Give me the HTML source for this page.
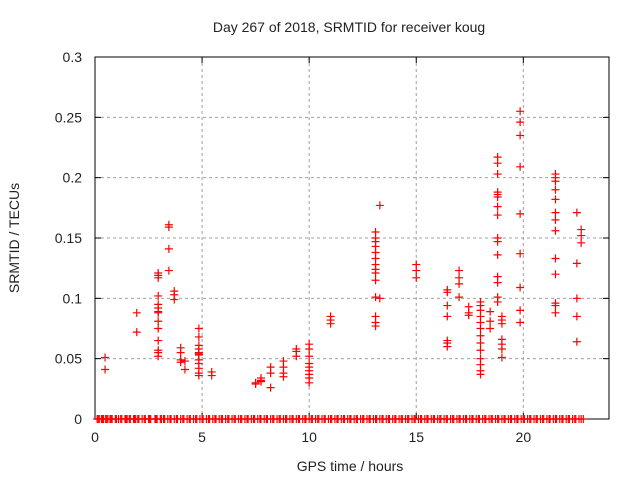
<!DOCTYPE html>
<html><head><meta charset="utf-8"><style>
body{margin:0;background:#fff}
svg text{font-family:"Liberation Sans",sans-serif;fill:#222}
</style></head><body>
<svg id="chart" width="640" height="480" viewBox="0 0 640 480" xmlns="http://www.w3.org/2000/svg">
<text x="349" y="32" font-size="14" text-anchor="middle">Day 267 of 2018, SRMTID for receiver koug</text>
<text x="0" y="0" font-size="14" text-anchor="middle" transform="translate(19,238) rotate(-90)">SRMTID / TECUs</text>
<text x="350" y="471" font-size="14" text-anchor="middle">GPS time / hours</text>
<g id="grid"></g>
<g id="axes"></g>
<g id="marks"></g>
</svg>
<script>
const xTicks=[0,5,10,15,20];
const yTicks=[0,0.05,0.1,0.15,0.2,0.25,0.3];
const yTickLabels=["0","0.05","0.1","0.15","0.2","0.25","0.3"];
const times=[0.47,0.47,1.95,1.95,
2.95,2.95,2.95,2.95,2.95,2.95,2.95,2.95,2.95,2.95,2.95,2.95,2.95,2.95,
3.45,3.45,3.45,3.45,3.7,3.7,3.7,4.0,4.0,4.0,4.0,4.2,4.2,
4.85,4.85,4.85,4.85,4.85,4.85,4.85,4.85,4.85,4.85,4.85,4.85,5.45,5.45,
7.5,7.5,7.75,7.75,7.75,8.2,8.2,8.2,8.8,8.8,8.8,8.8,9.4,9.4,9.4,
10,10,10,10,10,10,10,10,10,11,11,11,
13.1,13.1,13.1,13.1,13.1,13.1,13.1,13.1,13.1,13.1,13.1,13.1,13.1,13.1,13.3,13.3,
15,15,15,16.45,16.45,16.45,16.45,16.45,16.45,16.45,17,17,17,17,17.45,17.45,17.45,
18,18,18,18,18,18,18,18,18,18,18,18,18,18.45,18.45,18.45,
18.8,18.8,18.8,18.8,18.8,18.8,18.8,18.8,18.8,18.8,18.8,18.8,18.8,18.8,18.8,
19,19,19,19,19,19,19,
19.85,19.85,19.85,19.85,19.85,19.85,19.85,19.85,19.85,
21.5,21.5,21.5,21.5,21.5,21.5,21.5,21.5,21.5,21.5,21.5,21.5,21.5,
22.5,22.5,22.5,22.5,22.5,22.7,22.7,22.7];
const values=[0.051,0.041,0.088,0.072,
0.121,0.119,0.117,0.102,0.095,0.092,0.089,0.088,0.081,0.075,0.065,0.057,0.055,0.052,
0.161,0.159,0.141,0.123,0.106,0.103,0.099,0.059,0.055,0.049,0.047,0.048,0.041,
0.075,0.068,0.061,0.058,0.055,0.054,0.053,0.049,0.046,0.042,0.038,0.036,0.039,0.036,
0.030,0.029,0.034,0.031,0.032,0.043,0.038,0.026,0.048,0.043,0.038,0.035,0.058,0.056,0.052,
0.062,0.058,0.052,0.046,0.043,0.040,0.037,0.034,0.030,0.085,0.082,0.079,
0.155,0.150,0.147,0.143,0.138,0.133,0.128,0.124,0.121,0.115,0.101,0.085,0.080,0.077,0.177,0.100,
0.128,0.123,0.117,0.107,0.105,0.094,0.085,0.065,0.063,0.060,0.123,0.117,0.112,0.101,0.093,0.088,0.086,
0.097,0.094,0.090,0.085,0.080,0.075,0.069,0.063,0.057,0.050,0.045,0.040,0.037,0.089,0.081,0.075,
0.217,0.212,0.203,0.188,0.186,0.184,0.176,0.169,0.150,0.147,0.136,0.118,0.113,0.101,0.097,
0.085,0.082,0.079,0.066,0.062,0.058,0.051,
0.255,0.246,0.235,0.209,0.170,0.137,0.109,0.090,0.080,
0.203,0.200,0.197,0.190,0.182,0.171,0.165,0.156,0.133,0.120,0.096,0.094,0.088,
0.171,0.129,0.100,0.085,0.064,0.157,0.152,0.146];
const zeroTimes=[0.1,0.2,0.3,0.4,0.5,0.6,0.7,0.8,1.0,1.1,1.2,1.4,1.5,1.6,1.8,1.9,2.0,2.2,2.3,2.5,2.6,2.8,2.9,3.1,3.2,3.4,3.5,3.7,3.8,4.0,4.1,4.3,4.4,4.6,4.7,4.9,5.0,5.2,5.3,5.5,5.6,5.8,5.9,6.1,6.2,6.4,6.5,6.7,6.8,7.0,7.1,7.3,7.4,7.6,7.7,7.9,8.0,8.2,8.3,8.5,8.6,8.8,8.9,9.1,9.2,9.4,9.5,9.7,9.8,10.0,10.1,10.3,10.4,10.6,10.7,10.9,11.0,11.2,11.3,11.5,11.6,11.8,11.9,12.1,12.2,12.4,12.5,12.7,12.8,13.0,13.1,13.3,13.4,13.6,13.7,13.9,14.0,14.2,14.3,14.5,14.6,14.8,14.9,15.1,15.2,15.4,15.5,15.7,15.8,16.0,16.1,16.3,16.4,16.6,16.7,16.9,17.0,17.2,17.3,17.5,17.6,17.8,17.9,18.1,18.2,18.4,18.5,18.7,18.8,19.0,19.1,19.3,19.4,19.6,19.7,19.9,20.0,20.2,20.3,20.5,20.6,20.8,20.9,21.1,21.2,21.4,21.5,21.7,21.8,22.0,22.1,22.3,22.4,22.6,22.8,
0.15,0.35,0.55,0.75,0.95,1.25,1.45,1.65,1.85,2.05,2.35,2.55,2.85,3.05,3.25,3.55,3.85,4.15,4.45,4.75,5.05,5.35,5.65,5.95,6.25,6.55,6.85,7.15,7.45,7.75,8.05,8.35,8.65,8.95,9.25,9.55,9.85,10.15,10.45,10.75,11.05,11.35,11.65,11.95,12.25,12.55,12.85,13.15,13.45,13.75,14.05,14.35,14.65,14.95,15.25,15.55,15.85,16.15,16.45,16.75,17.05,17.35,17.65,17.95,18.25,18.55,18.85,19.15,19.45,19.75,20.05,20.35,20.65,20.95,21.25,21.55,21.85,22.15,22.45,22.7];
const X0=95,X1=609,Y0=419,Y1=57,XMAX=24,YMAX=0.3;
const xs=t=>X0+(X1-X0)*t/XMAX;
const ys=v=>Y0-(Y0-Y1)*v/YMAX;
const NS="http://www.w3.org/2000/svg";
function mk(tag,attrs,parent){const e=document.createElementNS(NS,tag);for(const k in attrs)e.setAttribute(k,attrs[k]);parent.appendChild(e);return e;}
const grid=document.getElementById('grid'),axes=document.getElementById('axes'),marks=document.getElementById('marks');
xTicks.forEach(t=>{const x=xs(t);
 if(t>0){const g=mk('line',{x1:x,x2:x,y1:Y1,y2:Y0,stroke:'#a0a0a0','stroke-dasharray':'3,3'},grid);
 
 }
 mk('line',{x1:x,x2:x,y1:Y0,y2:Y0-6,stroke:'#000'},axes);
 mk('line',{x1:x,x2:x,y1:Y1,y2:Y1+6,stroke:'#000'},axes);
 const l=mk('text',{x:x,y:442,'font-size':14,'text-anchor':'middle'},axes);l.textContent=t;
 
 
});
yTicks.forEach((v,i)=>{const y=ys(v);
 if(v>0&&v<YMAX){const g=mk('line',{x1:X0,x2:X1,y1:y,y2:y,stroke:'#a0a0a0','stroke-dasharray':'3,3'},grid);
 
 }
 mk('line',{x1:X0,x2:X0+6,y1:y,y2:y,stroke:'#000'},axes);
 mk('line',{x1:X1,x2:X1-6,y1:y,y2:y,stroke:'#000'},axes);
 const l=mk('text',{x:82,y:y+5,'font-size':14,'text-anchor':'end'},axes);l.textContent=yTickLabels[i];
 
 
});
mk('rect',{x:X0,y:Y1,width:X1-X0,height:Y0-Y1,fill:'none',stroke:'#000','stroke-width':1},axes);
function plus(t,v,name){const x=xs(t),y=ys(v);
 const p=mk('path',{d:`M${x-4} ${y}h8M${x} ${y-4}v8`,stroke:'#f00','stroke-width':1.2,fill:'none'},marks);
 
 
}
zeroTimes.forEach(t=>plus(t,0,'zero-point'));
times.forEach((t,i)=>plus(t,values[i],'srmtid-point'));
</script>
</body></html>
